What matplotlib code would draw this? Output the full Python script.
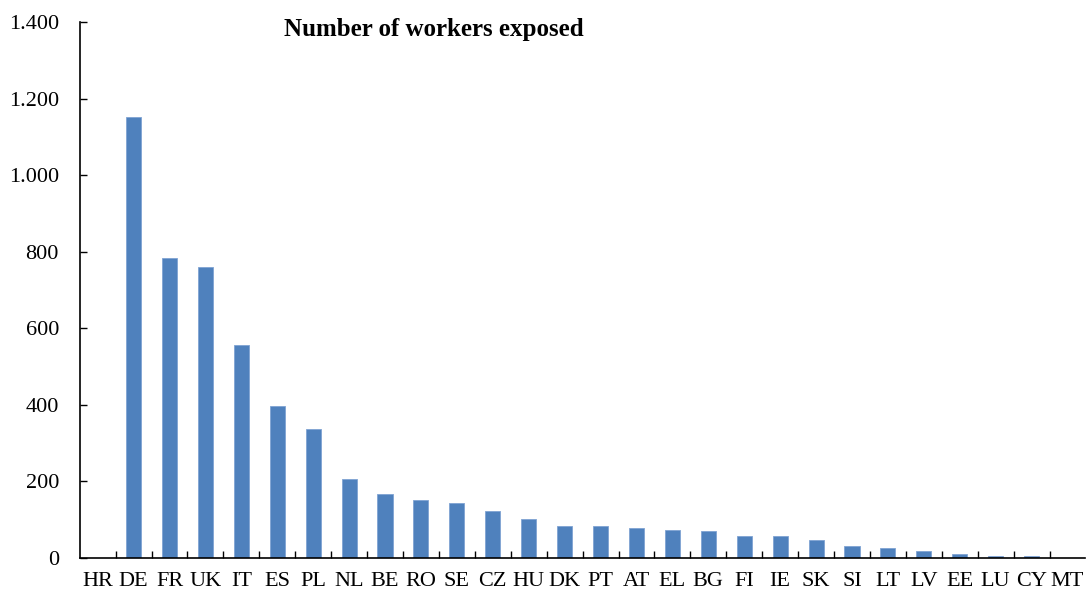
import numpy as np
import matplotlib.pyplot as plt
from matplotlib.ticker import FuncFormatter

countries = ["HR", "DE", "FR", "UK", "IT", "ES", "PL", "NL", "BE", "RO", "SE", "CZ", "HU", "DK",
             "PT", "AT", "EL", "BG", "FI", "IE", "SK", "SI", "LT", "LV", "EE", "LU", "CY", "MT"]
workers = [0, 1152, 783, 760, 556, 397, 337, 207, 168, 151, 144, 122, 101, 84,
           83, 79, 73, 70, 57, 57, 48, 32, 25, 18, 10, 5, 4, 0]

plt.rcParams['font.family'] = ['Liberation Serif', 'DejaVu Serif']

fig = plt.figure(figsize=(10.92, 5.93), dpi=100)
ax = fig.add_axes([0.073, 0.059, 0.921, 0.904])

x = np.arange(len(countries))
ax.bar(x, workers, width=0.42, color='#4F81BD', edgecolor='#7FA3D3', linewidth=0.6)

ax.set_xlim(-0.5, len(countries) - 0.5)
ax.set_ylim(0, 1400)
ax.set_yticks(np.arange(0, 1401, 200))
ax.yaxis.set_major_formatter(FuncFormatter(lambda v, p: f"{int(v):,}".replace(",", ".")))

ax.set_xticks(x)
ax.set_xticklabels(countries)
ax.set_xticks(np.arange(0.5, len(countries) - 0.5, 1), minor=True)
ax.tick_params(axis='x', which='major', length=0, pad=10, labelsize=16)
ax.tick_params(axis='x', which='minor', direction='in', length=5, width=1)
ax.tick_params(axis='y', direction='in', length=5, width=1, pad=15, labelsize=16)

for s in ['top', 'right']:
    ax.spines[s].set_visible(False)
for s in ['left', 'bottom']:
    ax.spines[s].set_linewidth(1.2)

ax.text(0.352, 0.985, "Number of workers exposed", transform=ax.transAxes,
        ha='center', va='center', fontsize=18, fontweight='bold')

fig.savefig("out.png", dpi=100)
